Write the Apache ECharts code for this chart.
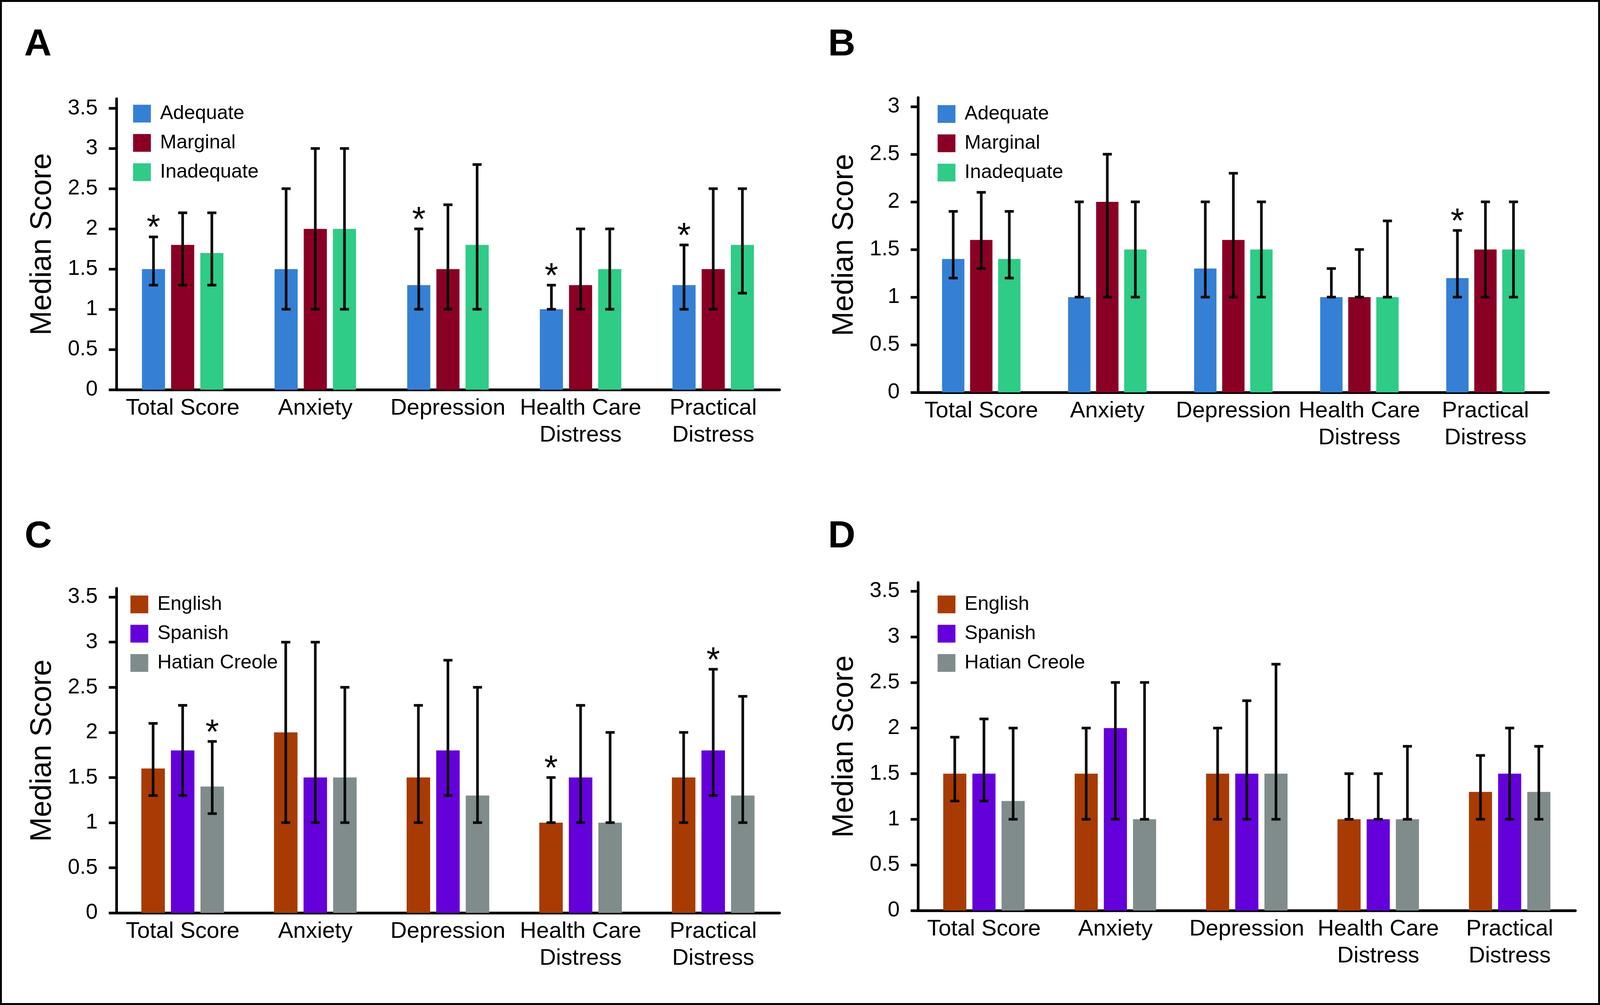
<!DOCTYPE html>
<html>
<head>
<meta charset="utf-8">
<script src="https://cdn.jsdelivr.net/npm/echarts@6/dist/echarts.min.js"></script>
<style>
html,body{margin:0;padding:0;background:#fff;overflow:hidden;width:100%;height:100%;}
#chart{width:100vw;height:100vh;}
</style>
</head>
<body>
<div id="chart"></div>
<script>
// ---------- data ----------
const categories = ['Total Score', 'Anxiety', 'Depression', 'Health Care\nDistress', 'Practical\nDistress'];
const literacyNames = ['Adequate', 'Marginal', 'Inadequate'];
const languageNames = ['English', 'Spanish', 'Hatian Creole'];
const ticksTo35 = [0, 0.5, 1, 1.5, 2, 2.5, 3, 3.5];
const ticksTo3 = [0, 0.5, 1, 1.5, 2, 2.5, 3];

// Panel A (health literacy, total sample)
const aMedian = [[1.5, 1.5, 1.3, 1.0, 1.3], [1.8, 2.0, 1.5, 1.3, 1.5], [1.7, 2.0, 1.8, 1.5, 1.8]];
const aLow    = [[1.3, 1.0, 1.0, 1.0, 1.0], [1.3, 1.0, 1.0, 1.0, 1.0], [1.3, 1.0, 1.0, 1.0, 1.2]];
const aHigh   = [[1.9, 2.5, 2.0, 1.3, 1.8], [2.2, 3.0, 2.3, 2.0, 2.5], [2.2, 3.0, 2.8, 2.0, 2.5]];
const aStar   = [[1, 0, 1, 1, 1], [0, 0, 0, 0, 0], [0, 0, 0, 0, 0]];
// Panel B
const bMedian = [[1.4, 1.0, 1.3, 1.0, 1.2], [1.6, 2.0, 1.6, 1.0, 1.5], [1.4, 1.5, 1.5, 1.0, 1.5]];
const bLow    = [[1.2, 1.0, 1.0, 1.0, 1.0], [1.3, 1.0, 1.0, 1.0, 1.0], [1.2, 1.0, 1.0, 1.0, 1.0]];
const bHigh   = [[1.9, 2.0, 2.0, 1.3, 1.7], [2.1, 2.5, 2.3, 1.5, 2.0], [1.9, 2.0, 2.0, 1.8, 2.0]];
const bStar   = [[0, 0, 0, 0, 1], [0, 0, 0, 0, 0], [0, 0, 0, 0, 0]];
// Panel C (language)
const cMedian = [[1.6, 2.0, 1.5, 1.0, 1.5], [1.8, 1.5, 1.8, 1.5, 1.8], [1.4, 1.5, 1.3, 1.0, 1.3]];
const cLow    = [[1.3, 1.0, 1.0, 1.0, 1.0], [1.3, 1.0, 1.3, 1.0, 1.3], [1.1, 1.0, 1.0, 1.0, 1.0]];
const cHigh   = [[2.1, 3.0, 2.3, 1.5, 2.0], [2.3, 3.0, 2.8, 2.3, 2.7], [1.9, 2.5, 2.5, 2.0, 2.4]];
const cStar   = [[0, 0, 0, 1, 0], [0, 0, 0, 0, 1], [1, 0, 0, 0, 0]];
// Panel D
const dMedian = [[1.5, 1.5, 1.5, 1.0, 1.3], [1.5, 2.0, 1.5, 1.0, 1.5], [1.2, 1.0, 1.5, 1.0, 1.3]];
const dLow    = [[1.2, 1.0, 1.0, 1.0, 1.0], [1.2, 1.0, 1.0, 1.0, 1.0], [1.0, 1.0, 1.0, 1.0, 1.0]];
const dHigh   = [[1.9, 2.0, 2.0, 1.5, 1.7], [2.1, 2.5, 2.3, 1.5, 2.0], [2.0, 2.5, 2.7, 1.8, 1.8]];
const dStar   = [[0, 0, 0, 0, 0], [0, 0, 0, 0, 0], [0, 0, 0, 0, 0]];

// ---------- styles / layout (designed for 4222 x 2574, scaled to the real viewport) ----------
const literacyColors = ['#3580d5', '#8a0024', '#2ecc86'];
const languageColors = ['#a83b03', '#6400da', '#7f8c8b'];
const FONT = '"Liberation Sans", Arial, Helvetica, sans-serif';

const W = window.innerWidth || 4222, H = window.innerHeight || 2574;
const sx = W / 4222, sy = H / 2574, sf = Math.min(sx, sy);
const X = v => v * sx, Y = v => v * sy, F = v => v * sf;

const panels = [
  { letter: 'A', lx: 64,   ly: 115,  grid: [307, 253, 1750, 745], ymax: 3.618, ticks: ticksTo35,
    barWidth: 61, gap: 16, legend: [346, 261], names: literacyNames, colors: literacyColors,
    med: aMedian, lo: aLow, hi: aHigh, star: aStar },
  { letter: 'B', lx: 2185, ly: 115,  grid: [2423, 250, 1663, 755], ymax: 3.094, ticks: ticksTo3,
    barWidth: 59, gap: 15, legend: [2469, 262], names: literacyNames, colors: literacyColors,
    med: bMedian, lo: bLow, hi: bHigh, star: bStar },
  { letter: 'C', lx: 65,   ly: 1375, grid: [307, 1507, 1750, 831], ymax: 3.596, ticks: ticksTo35,
    barWidth: 62, gap: 16, legend: [339, 1518], names: languageNames, colors: languageColors,
    med: cMedian, lo: cLow, hi: cHigh, star: cStar },
  { letter: 'D', lx: 2185, ly: 1375, grid: [2423, 1492, 1734, 840], ymax: 3.595, ticks: ticksTo35,
    barWidth: 61, gap: 16, legend: [2469, 1518], names: languageNames, colors: languageColors,
    med: dMedian, lo: dLow, hi: dHigh, star: dStar }
];

const grids = [], xAxes = [], yAxes = [], legends = [], series = [], graphics = [];
const lw = F(7);

graphics.push({ type: 'rect', shape: { x: X(2.5), y: Y(2.5), width: W - X(5), height: H - Y(5) },
  style: { fill: 'none', stroke: '#000', lineWidth: F(5) }, z: 100 });

panels.forEach((p, pi) => {
  grids.push({ left: X(p.grid[0]), top: Y(p.grid[1]), width: X(p.grid[2]), height: Y(p.grid[3]), containLabel: false });
  xAxes.push({
    type: 'category', gridIndex: pi, data: categories,
    axisLine: { lineStyle: { color: '#000', width: lw } },
    axisTick: { show: false },
    axisLabel: { interval: 0, color: '#000', fontSize: F(60), lineHeight: F(71), margin: Y(14), fontFamily: FONT }
  });
  yAxes.push({
    type: 'value', gridIndex: pi, min: 0, max: p.ymax,
    name: 'Median Score', nameLocation: 'middle', nameGap: X(155),
    nameTextStyle: { fontSize: F(78), color: '#000', fontFamily: FONT },
    axisLine: { show: true, lineStyle: { color: '#000', width: lw } },
    axisTick: { show: true, length: X(20), lineStyle: { color: '#000', width: lw }, customValues: p.ticks },
    axisLabel: { color: '#000', fontSize: F(57), margin: X(49), fontFamily: FONT, customValues: p.ticks },
    splitLine: { show: false }
  });
  legends.push({
    left: X(p.legend[0]), top: Y(p.legend[1]), orient: 'vertical', icon: 'rect',
    itemWidth: F(47), itemHeight: F(47), itemGap: Y(25), selectedMode: false,
    data: p.names,
    textStyle: { fontSize: F(52), color: '#000', fontFamily: FONT, padding: [0, 0, 0, X(19)], lineHeight: F(47) }
  });
  graphics.push({ type: 'text', x: X(p.lx), y: Y(p.ly),
    style: { text: p.letter, x: 0, y: 0, fontSize: F(100), fontWeight: 'bold', fontFamily: FONT, fill: '#000', verticalAlign: 'middle' } });

  const bw = X(p.barWidth), gp = X(p.gap);
  p.names.forEach((nm, i) => {
    series.push({
      type: 'bar', name: nm, xAxisIndex: pi, yAxisIndex: pi,
      data: p.med[i], barWidth: bw, barGap: (gp / bw * 100).toFixed(2) + '%',
      itemStyle: { color: p.colors[i] }, z: 2, silent: true
    });
    const off = (i - 1) * (bw + gp);
    series.push({
      type: 'custom', name: 'err' + pi + '_' + i, xAxisIndex: pi, yAxisIndex: pi, z: 5, silent: true,
      data: categories.map((c, j) => [j, p.lo[i][j], p.hi[i][j], p.star[i][j]]),
      renderItem: function (params, api) {
        const j = api.value(0);
        const pl = api.coord([j, api.value(1)]);
        const ph = api.coord([j, api.value(2)]);
        const x = pl[0] + off;
        const st = { stroke: '#0a0a0a', lineWidth: lw };
        const cw = X(12);
        const children = [
          { type: 'line', shape: { x1: x, y1: pl[1], x2: x, y2: ph[1] }, style: st },
          { type: 'line', shape: { x1: x - cw, y1: pl[1], x2: x + cw, y2: pl[1] }, style: st },
          { type: 'line', shape: { x1: x - cw, y1: ph[1], x2: x + cw, y2: ph[1] }, style: st }
        ];
        if (api.value(3)) {
          children.push({ type: 'text', style: { text: '*', x: x, y: ph[1] - Y(20), align: 'center', verticalAlign: 'middle',
            fontSize: F(92), fontFamily: FONT, fill: '#000' } });
        }
        return { type: 'group', children: children };
      }
    });
  });
});

const chart = echarts.init(document.getElementById('chart'), null, { renderer: 'canvas', width: W, height: H });
chart.setOption({
  animation: false,
  backgroundColor: '#fff',
  grid: grids, xAxis: xAxes, yAxis: yAxes, legend: legends, series: series, graphic: graphics
});
</script>
</body>
</html>
